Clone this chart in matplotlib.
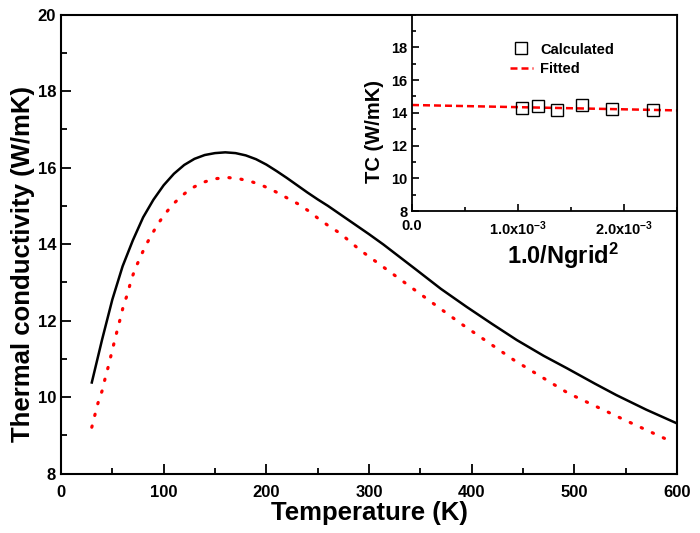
import matplotlib
matplotlib.use("Agg")
import matplotlib.pyplot as plt
from matplotlib.ticker import MultipleLocator, FixedLocator, FixedFormatter

plt.rcParams['font.family'] = ['Liberation Sans', 'DejaVu Sans']
plt.rcParams['font.weight'] = 'bold'
plt.rcParams['mathtext.fontset'] = 'custom'
plt.rcParams['mathtext.rm'] = 'Liberation Sans:bold'
plt.rcParams['mathtext.bf'] = 'Liberation Sans:bold'
plt.rcParams['mathtext.it'] = 'Liberation Sans:bold'
plt.rcParams['mathtext.default'] = 'bf'

# Main chart data
temp_black = [30, 40, 50, 60, 70, 80, 90, 100, 110, 120, 130, 140, 150, 160, 170, 180, 190, 200,
              210, 220, 230, 240, 250, 260, 280, 300, 314, 330, 346, 370, 395, 420, 444, 470, 493,
              520, 541, 570, 600]
tc_black = [10.38, 11.50, 12.55, 13.42, 14.10, 14.70, 15.16, 15.54, 15.84, 16.07, 16.23, 16.33, 16.38,
            16.40, 16.38, 16.32, 16.22, 16.08, 15.91, 15.73, 15.54, 15.35, 15.17, 15.00, 14.63, 14.26,
            13.99, 13.66, 13.33, 12.83, 12.36, 11.91, 11.49, 11.08, 10.75, 10.35, 10.05, 9.67, 9.31]
temp_red = [30, 33, 36, 40, 43, 46, 49, 52, 55, 58, 61, 65, 68, 72, 77, 82, 88, 94, 101, 109, 118,
            127, 139, 150, 163, 175, 187, 198, 209, 220, 231, 241, 251, 261, 272, 291, 340, 389, 441,
            494, 549, 595]
tc_red = [9.21, 9.53, 9.84, 10.16, 10.49, 10.79, 11.12, 11.45, 11.77, 12.08, 12.41, 12.71, 13.03, 13.34,
          13.64, 13.94, 14.23, 14.51, 14.78, 15.04, 15.27, 15.46, 15.62, 15.71, 15.74, 15.70, 15.62,
          15.51, 15.37, 15.21, 15.05, 14.87, 14.66, 14.47, 14.28, 13.85, 12.89, 11.93, 10.97, 10.10,
          9.40, 8.83]

# Inset data
inv_ngrid2 = [1.04e-3, 1.19e-3, 1.37e-3, 1.60e-3, 1.89e-3, 2.27e-3]
tc_calc = [14.31, 14.39, 14.17, 14.47, 14.21, 14.15]
fit_x = [0.0, 2.5e-3]
fit_y = [14.48, 14.15]

main_xticks = [0, 100, 200, 300, 400, 500, 600]
main_yticks = [8, 10, 12, 14, 16, 18, 20]
inset_xticks = [0.0, 1.0e-3, 2.0e-3]
inset_xticklabels = ['0.0', r'1.0x10$^{-3}$', r'2.0x10$^{-3}$']
inset_yticks = [8, 10, 12, 14, 16, 18]

fig = plt.figure(figsize=(7.0, 5.33), dpi=100)
ax = fig.add_axes([61/700, 1-473.5/533, 616/700, (473.5-14.7)/533])
ax.plot(temp_black, tc_black, color='black', lw=1.8)
ax.plot(temp_red, tc_red, color='red', lw=2.3, linestyle=(0, (0.4, 3.4)), dash_capstyle='round')
ax.set_xlim(0, 600)
ax.set_ylim(8, 20)
ax.set_xticks(main_xticks)
ax.set_yticks(main_yticks)
ax.xaxis.set_minor_locator(MultipleLocator(50))
ax.yaxis.set_minor_locator(MultipleLocator(1))
ax.tick_params(which='both', direction='in', width=1.3, labelsize=12)
ax.tick_params(axis='x', which='major', pad=8)
ax.tick_params(which='major', length=7)
ax.tick_params(which='minor', length=4)
for lab in ax.get_xticklabels() + ax.get_yticklabels():
    lab.set_fontweight('bold')
for s in ax.spines.values():
    s.set_linewidth(1.5)
ax.set_xlabel('Temperature (K)', fontsize=18.5, fontweight='bold', labelpad=1)
ax.set_ylabel('Thermal conductivity (W/mK)', fontsize=18.5, fontweight='bold')
ax.yaxis.set_label_coords(-0.043, 0.457)

ins = fig.add_axes([412/700, 1-211/533, (677-412)/700, (211-14.7)/533])
ins.plot(fit_x, fit_y, color='red', lw=1.8, linestyle=(0, (2.8, 1.6)), label='Fitted', zorder=2)
ins.plot(inv_ngrid2, tc_calc, linestyle='none', marker='s', markersize=8, markerfacecolor='none',
         markeredgecolor='black', markeredgewidth=1.0, label='Calculated', zorder=3)
ins.set_xlim(0, 2.5e-3)
ins.set_ylim(8, 20)
ins.xaxis.set_major_locator(FixedLocator(inset_xticks))
ins.xaxis.set_major_formatter(FixedFormatter(inset_xticklabels))
ins.set_yticks(inset_yticks)
ins.xaxis.set_minor_locator(MultipleLocator(0.5e-3))
ins.yaxis.set_minor_locator(MultipleLocator(1))
ins.tick_params(which='both', direction='in', width=1.2, labelsize=10.5)
ins.tick_params(axis='x', which='major', pad=6)
ins.tick_params(which='major', length=5)
ins.tick_params(which='minor', length=3)
for lab in ins.get_xticklabels() + ins.get_yticklabels():
    lab.set_fontweight('bold')
for s in ins.spines.values():
    s.set_linewidth(1.3)
ins.set_xlabel(r'1.0/Ngrid$^{2}$', fontsize=17, fontweight='bold')
ins.xaxis.set_label_coords(0.57, -0.15)
ins.set_ylabel('TC (W/mK)', fontsize=14.5, fontweight='bold')
ins.yaxis.set_label_coords(-0.105, 0.405)
h, l = ins.get_legend_handles_labels()
leg = ins.legend([h[1], h[0]], [l[1], l[0]], loc='upper left', bbox_to_anchor=(0.33, 0.91),
                 frameon=False, fontsize=10.5, handlelength=1.6, handletextpad=0.5,
                 labelspacing=0.4, borderpad=0.2)
for t in leg.get_texts():
    t.set_fontweight('bold')

fig.savefig('out.png', dpi=100)
